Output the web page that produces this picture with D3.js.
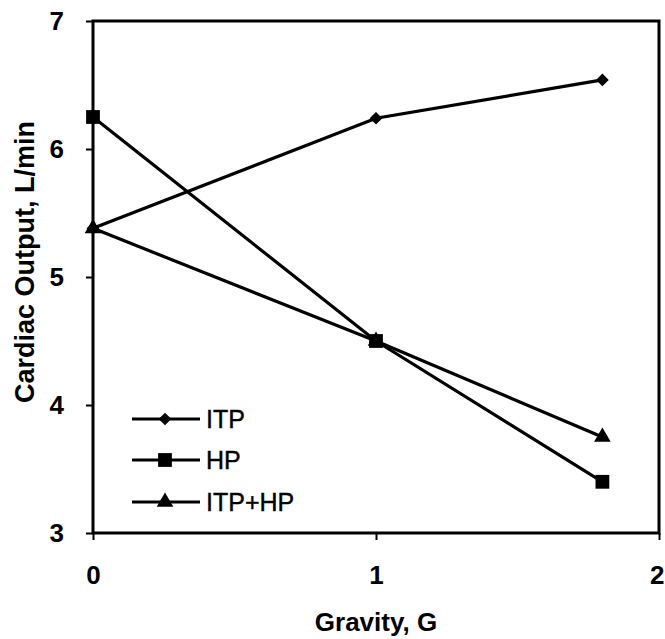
<!DOCTYPE html>
<html><head><meta charset="utf-8">
<script src="https://cdn.jsdelivr.net/npm/d3@7"></script>
<style>body{margin:0;background:#fff}svg{display:block}</style>
</head><body>
<svg id="c" width="665" height="639"></svg>
<script>
const gravity = [0, 1, 1.8];
const itp = [5.38, 6.24, 6.54];
const hp = [6.25, 4.5, 3.4];
const itpHp = [5.38, 4.5, 3.75];
const seriesNames = ["ITP", "HP", "ITP+HP"];
const xTicks = [0, 1, 2];
const yTicks = [3, 4, 5, 6, 7];

const svg = d3.select("#c");
const x = d3.scaleLinear().domain([0, 2]).range([93, 659]);
const y = d3.scaleLinear().domain([3, 7]).range([533, 21]);
const font = "Liberation Sans, Arial, Helvetica, sans-serif";

// frame
svg.append("rect").attr("x", x(0)).attr("y", y(7)).attr("width", x(2) - x(0)).attr("height", y(3) - y(7))
  .attr("fill", "none").attr("stroke", "#000").attr("stroke-width", 3);

const xAxis = svg.append("g").attr("transform", `translate(0,${y(3)})`)
  .call(d3.axisBottom(x).tickValues(xTicks).tickFormat(d3.format("d")).tickSize(7).tickPadding(26));
const yAxis = svg.append("g").attr("transform", `translate(${x(0)},0)`)
  .call(d3.axisLeft(y).tickValues(yTicks).tickFormat(d3.format("d")).tickSize(7).tickPadding(22));
[xAxis, yAxis].forEach(a => {
  a.select(".domain").remove();
  a.selectAll("line").attr("stroke", "#000").attr("stroke-width", 2);
  a.selectAll("text").attr("font-family", font).attr("font-weight", "bold").attr("font-size", 26).attr("fill", "#000");
});
xAxis.selectAll(".tick text").filter(d => d === 2).attr("text-anchor", "end").attr("dx", 5);

svg.append("text").attr("x", 376).attr("y", 631).attr("text-anchor", "middle")
  .attr("font-family", font).attr("font-weight", "bold").attr("font-size", 26).text("Gravity, G");
svg.append("text").attr("transform", "translate(34,262) rotate(-90)").attr("text-anchor", "middle")
  .attr("font-family", font).attr("font-weight", "bold").attr("font-size", 27).text("Cardiac Output, L/min");

const series = [
  {name: seriesNames[0], vals: itp, sym: d3.symbolSquare, size: 80, rot: 45},
  {name: seriesNames[1], vals: hp, sym: d3.symbolSquare, size: 190, rot: 0},
  {name: seriesNames[2], vals: itpHp, sym: d3.symbolTriangle, size: 120, rot: 0}
];
const line = d3.line().x((d, i) => x(gravity[i])).y(d => y(d));
series.forEach(s => {
  svg.append("path").attr("d", line(s.vals)).attr("fill", "none").attr("stroke", "#000").attr("stroke-width", 3.2);
});
series.forEach(s => {
  svg.selectAll(null).data(s.vals).enter().append("path")
    .attr("d", d3.symbol(s.sym, s.size))
    .attr("transform", (d, i) => `translate(${x(gravity[i])},${y(d)}) rotate(${s.rot})`)
    .attr("fill", "#000");
});

// legend
const ly = [419, 460, 502];
series.forEach((s, i) => {
  svg.append("line").attr("x1", 132).attr("x2", 200).attr("y1", ly[i]).attr("y2", ly[i])
    .attr("stroke", "#000").attr("stroke-width", 3);
  svg.append("path").attr("d", d3.symbol(s.sym, s.size)).attr("transform", `translate(165,${ly[i]}) rotate(${s.rot})`).attr("fill", "#000");
  svg.append("text").attr("x", 206).attr("y", ly[i] + 9).attr("font-family", font).attr("font-size", 25)
    .attr("stroke", "#000").attr("stroke-width", 0.4)
    .text(s.name);
});
</script>
</body></html>
